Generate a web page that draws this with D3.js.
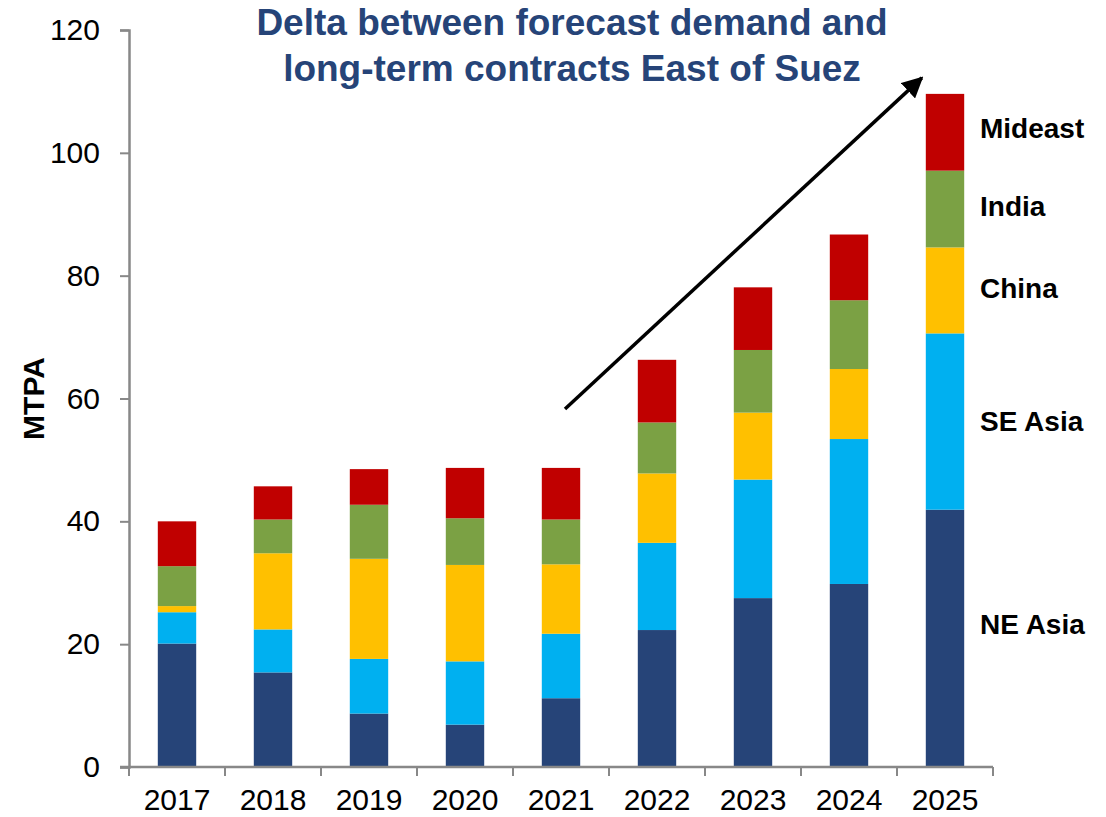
<!DOCTYPE html>
<html>
<head>
<meta charset="utf-8">
<script src="https://cdn.jsdelivr.net/npm/d3@7"></script>
<style>
    body { margin: 0; background: #fff; }
    text { font-family: "Liberation Sans", Arial, sans-serif; }
</style>
</head>
<body>
<div id="chart"></div>
<script>
// Data (MTPA)
var years = ["2017", "2018", "2019", "2020", "2021", "2022", "2023", "2024", "2025"];
var neAsia = [20.1, 15.4, 8.7, 6.9, 11.2, 22.3, 27.5, 29.8, 41.9];
var seAsia = [5.1, 7.0, 8.9, 10.3, 10.5, 14.2, 19.3, 23.6, 28.7];
var china = [1.0, 12.4, 16.3, 15.7, 11.3, 11.3, 10.9, 11.4, 14.0];
var india = [6.5, 5.5, 8.8, 7.6, 7.3, 8.3, 10.2, 11.2, 12.5];
var mideast = [7.3, 5.4, 5.8, 8.2, 8.4, 10.2, 10.2, 10.7, 12.5];

var seriesNames = ["NE Asia", "SE Asia", "China", "India", "Mideast"];
var seriesColors = ["#264478", "#00B0F0", "#FFC000", "#7BA144", "#C00000"];
var yTicks = [0, 20, 40, 60, 80, 100, 120];

var width = 1106, height = 817;
var margin = { top: 30, right: 113, bottom: 50, left: 129 };
var fontFam = "'Liberation Sans', Arial, sans-serif";

var svg = d3.select("#chart").append("svg")
    .attr("width", width)
    .attr("height", height);

// build rows for the stack
var rows = years.map(function(y, i) {
    return {
        year: y,
        "NE Asia": neAsia[i],
        "SE Asia": seAsia[i],
        "China": china[i],
        "India": india[i],
        "Mideast": mideast[i]
    };
});
var stacked = d3.stack().keys(seriesNames)(rows);

// Scales
var x = d3.scaleBand()
    .domain(years)
    .range([margin.left, width - margin.right])
    .paddingInner(0.6)
    .paddingOuter(0.3);

var y = d3.scaleLinear()
    .domain([0, 120])
    .range([height - margin.bottom, margin.top]);

var color = d3.scaleOrdinal().domain(seriesNames).range(seriesColors);

// Bars
svg.append("g").selectAll("g")
    .data(stacked)
    .enter().append("g")
    .attr("fill", function(d) { return color(d.key); })
    .selectAll("rect")
    .data(function(d) { return d; })
    .enter().append("rect")
    .attr("x", function(d) { return x(d.data.year); })
    .attr("width", x.bandwidth())
    .attr("y", function(d) { return y(d[1]); })
    .attr("height", function(d) { return y(d[0]) - y(d[1]); });

// Y axis
var yAxis = d3.axisLeft(y)
    .tickValues(yTicks)
    .tickSize(9)
    .tickPadding(20);

var gy = svg.append("g")
    .attr("transform", "translate(" + margin.left + ",0)")
    .call(yAxis);
gy.select(".domain").attr("stroke", "#888").attr("stroke-width", 2.5);
gy.selectAll(".tick line").attr("stroke", "#888").attr("stroke-width", 2);
gy.selectAll(".tick text")
    .attr("font-size", 30)
    .attr("fill", "#000")
    .style("font-family", fontFam);

// X axis (labels centered, ticks between categories)
var xAxis = d3.axisBottom(x).tickSize(0).tickPadding(22);
var gx = svg.append("g")
    .attr("transform", "translate(0," + y(0) + ")")
    .call(xAxis);
gx.select(".domain").remove();
gx.selectAll(".tick text")
    .attr("font-size", 30)
    .attr("fill", "#000")
    .style("font-family", fontFam);

gx.append("line")
    .attr("x1", margin.left - 9)
    .attr("x2", width - margin.right)
    .attr("stroke", "#888")
    .attr("stroke-width", 2.5);

gx.selectAll(".sep")
    .data(d3.range(years.length + 1))
    .enter().append("line")
    .attr("class", "sep")
    .attr("x1", function(i) { return x.range()[0] + i * x.step(); })
    .attr("x2", function(i) { return x.range()[0] + i * x.step(); })
    .attr("y1", 0)
    .attr("y2", 9)
    .attr("stroke", "#888")
    .attr("stroke-width", 2);

// Y axis title
svg.append("text")
    .attr("transform", "translate(44," + y(60) + ") rotate(-90)")
    .attr("text-anchor", "middle")
    .attr("font-size", 30)
    .attr("font-weight", "bold")
    .text("MTPA");

// Title
var title = svg.append("text")
    .attr("text-anchor", "middle")
    .attr("font-size", 37)
    .attr("font-weight", "bold")
    .attr("fill", "#264478");
title.append("tspan").attr("x", 572).attr("y", 35).text("Delta between forecast demand and");
title.append("tspan").attr("x", 572).attr("y", 81).text("long-term contracts East of Suez");

// Series labels beside the last bar (NE Asia label sits a bit higher)
var labelShift = [-14, -1, -2, -3, -4];
var last = stacked.map(function(s) { return s[s.length - 1]; });
svg.append("g").selectAll("text")
    .data(last)
    .enter().append("text")
    .attr("x", 980)
    .attr("y", function(d, i) { return y((d[0] + d[1]) / 2) + 10 + labelShift[i]; })
    .attr("font-size", 28)
    .attr("font-weight", "bold")
    .attr("fill", "#000")
    .text(function(d, i) { return seriesNames[i]; });

// Trend arrow
svg.append("defs").append("marker")
    .attr("id", "arrowhead")
    .attr("viewBox", "0 0 10 10")
    .attr("refX", 9)
    .attr("refY", 5)
    .attr("markerWidth", 6)
    .attr("markerHeight", 6)
    .attr("orient", "auto")
    .append("path")
    .attr("d", "M0,0 L10,5 L0,10 Z")
    .attr("fill", "#000");

svg.append("line")
    .attr("x1", x("2021") + x.bandwidth() / 2 + 4)
    .attr("y1", y(58.3))
    .attr("x2", x("2025") - 4)
    .attr("y2", y(112.2))
    .attr("stroke", "#000")
    .attr("stroke-width", 3.5)
    .attr("marker-end", "url(#arrowhead)");
</script>
</body>
</html>
